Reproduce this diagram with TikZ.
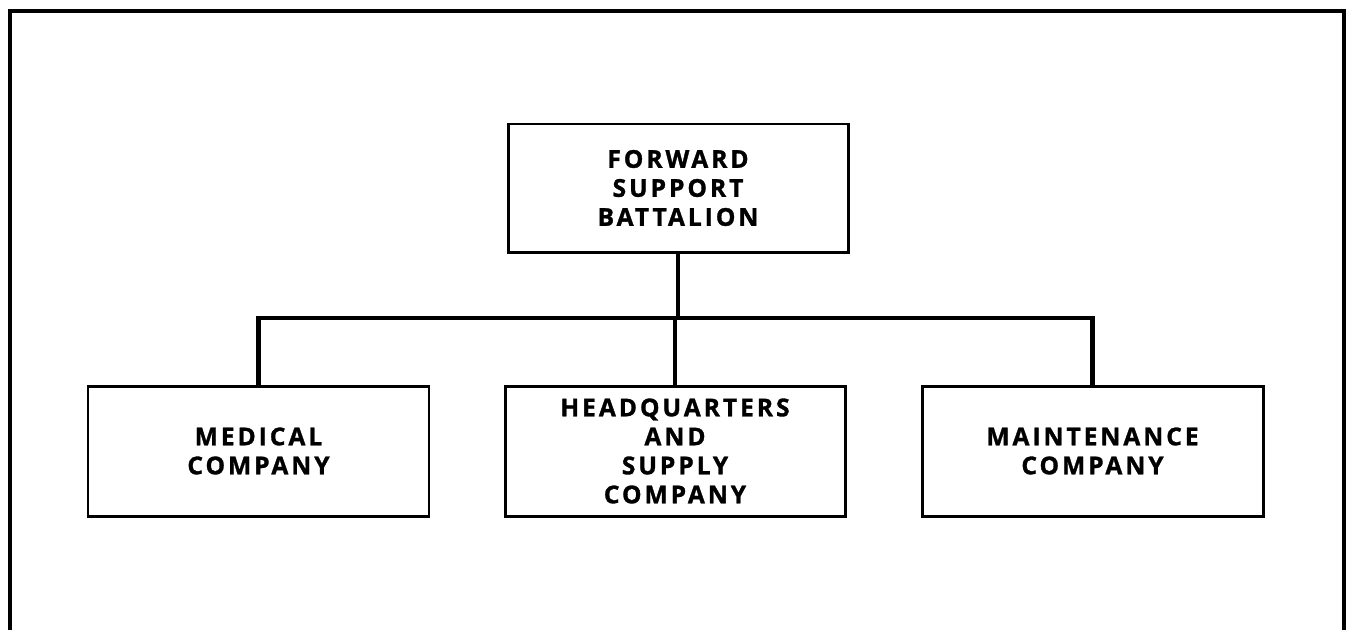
\documentclass[tikz,border=0pt]{standalone}
\usepackage{fontspec}
\newfontfamily\orgfont[LetterSpace=12,BoldFeatures={FakeBold=1.2}]{Open Sans}
\usetikzlibrary{positioning}

\begin{document}
\begin{tikzpicture}[
    unitbox/.style={draw,line width=1.7pt,minimum width=6.8cm,minimum height=2.6cm,
      inner sep=0pt,align=center,font=\orgfont\bfseries\fontsize{14}{16.5}\selectfont},
    conn/.style={line width=2.6pt},
    frame/.style={line width=2.8pt}]
  \useasboundingbox (0,0) rectangle (26.96,-12.58);
  % outer frame, open at the bottom
  \draw[frame] (0.2,-12.7) -- (0.2,-0.22) -- (26.88,-0.22) -- (26.88,-12.7);
  \node[unitbox,minimum height=2.56cm] (fsb) at (13.56,-3.76) {FORWARD\\SUPPORT\\BATTALION};
  \node[unitbox,minimum width=6.82cm] (med) at (5.17,-9.02) {MEDICAL\\COMPANY};
  \node[unitbox] (hq) at (13.5,-9.02) {HEADQUARTERS\\AND\\SUPPLY\\COMPANY};
  \node[unitbox,minimum width=6.82cm] (maint) at (21.85,-9.02) {MAINTENANCE\\COMPANY};
  \coordinate (bus) at (13.52,-6.36);
  \draw[conn] (fsb.south) -- (fsb.south |- bus);
  \draw[conn] (med.north) -- (med.north |- bus) -- (maint.north |- bus) -- (maint.north);
  \draw[conn] (hq.north) -- (hq.north |- bus);
\end{tikzpicture}
\end{document}
